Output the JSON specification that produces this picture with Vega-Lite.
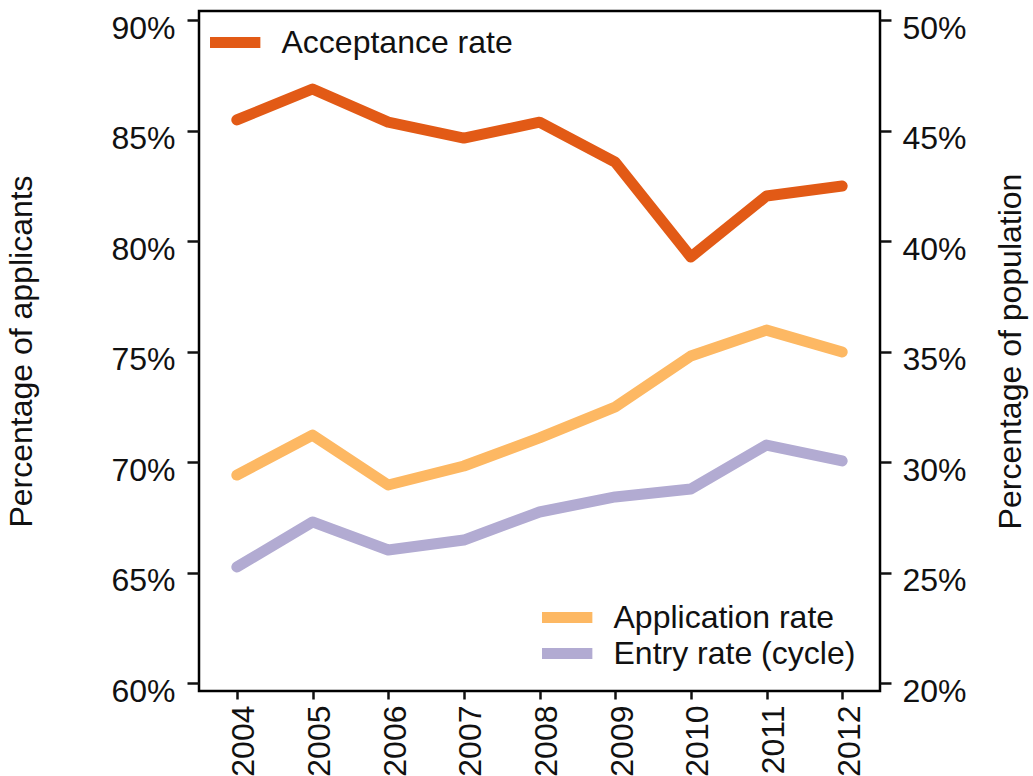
{
  "$schema": "https://vega.github.io/schema/vega-lite/v6.json",
  "width": 681,
  "height": 680,
  "autosize": {"type": "none"},
  "padding": {"left": 199, "top": 11, "right": 153, "bottom": 85},
  "background": "white",
  "datasets": {
    "applicants": [
      {"year": 2004, "series": "Acceptance rate", "value": 85.48},
      {"year": 2005, "series": "Acceptance rate", "value": 86.88},
      {"year": 2006, "series": "Acceptance rate", "value": 85.38},
      {"year": 2007, "series": "Acceptance rate", "value": 84.66},
      {"year": 2008, "series": "Acceptance rate", "value": 85.38},
      {"year": 2009, "series": "Acceptance rate", "value": 83.57},
      {"year": 2010, "series": "Acceptance rate", "value": 79.28},
      {"year": 2011, "series": "Acceptance rate", "value": 82.04},
      {"year": 2012, "series": "Acceptance rate", "value": 82.49}
    ],
    "population": [
      {"year": 2004, "series": "Application rate", "value": 29.41},
      {"year": 2005, "series": "Application rate", "value": 31.22},
      {"year": 2006, "series": "Application rate", "value": 28.96},
      {"year": 2007, "series": "Application rate", "value": 29.82},
      {"year": 2008, "series": "Application rate", "value": 31.09},
      {"year": 2009, "series": "Application rate", "value": 32.49},
      {"year": 2010, "series": "Application rate", "value": 34.80},
      {"year": 2011, "series": "Application rate", "value": 35.97},
      {"year": 2012, "series": "Application rate", "value": 34.98},
      {"year": 2004, "series": "Entry rate (cycle)", "value": 25.25},
      {"year": 2005, "series": "Entry rate (cycle)", "value": 27.29},
      {"year": 2006, "series": "Entry rate (cycle)", "value": 26.02},
      {"year": 2007, "series": "Entry rate (cycle)", "value": 26.47},
      {"year": 2008, "series": "Entry rate (cycle)", "value": 27.74},
      {"year": 2009, "series": "Entry rate (cycle)", "value": 28.42},
      {"year": 2010, "series": "Entry rate (cycle)", "value": 28.78},
      {"year": 2011, "series": "Entry rate (cycle)", "value": 30.77},
      {"year": 2012, "series": "Entry rate (cycle)", "value": 30.05}
    ]
  },
  "encoding": {
    "x": {
      "field": "year",
      "type": "quantitative",
      "scale": {"domain": [2003.5, 2012.5], "nice": false, "zero": false},
      "axis": {
        "title": null,
        "values": [2004, 2005, 2006, 2007, 2008, 2009, 2010, 2011, 2012],
        "format": "d",
        "labelAngle": -90,
        "tickSize": 8,
        "labelPadding": 6,
        "labelOffset": 7
      }
    }
  },
  "layer": [
    {
      "data": {"name": "applicants"},
      "mark": {"type": "line", "strokeWidth": 11, "strokeCap": "round", "strokeJoin": "round"},
      "encoding": {
        "y": {
          "field": "value",
          "type": "quantitative",
          "scale": {"domain": [59.64, 90.41], "nice": false, "zero": false},
          "axis": {
            "orient": "left",
            "title": "Percentage of applicants",
            "values": [60, 65, 70, 75, 80, 85, 90],
            "labelExpr": "datum.value + '%'",
            "tickSize": 12,
            "labelPadding": 12,
            "labelOffset": 8,
            "titleX": -178,
            "titleY": 340,
            "titleAngle": -90,
            "titleAlign": "center",
            "titleBaseline": "middle"
          }
        },
        "color": {
          "field": "series",
          "type": "nominal",
          "scale": {"domain": ["Acceptance rate"], "range": ["#e25a16"]},
          "legend": {
            "orient": "none",
            "legendX": 11,
            "legendY": 13.75,
            "title": null
          }
        }
      }
    },
    {
      "data": {"name": "population"},
      "mark": {"type": "line", "strokeWidth": 11, "strokeCap": "round", "strokeJoin": "round"},
      "encoding": {
        "y": {
          "field": "value",
          "type": "quantitative",
          "scale": {"domain": [19.64, 50.41], "nice": false, "zero": false},
          "axis": {
            "orient": "right",
            "title": "Percentage of population",
            "values": [20, 25, 30, 35, 40, 45, 50],
            "labelExpr": "datum.value + '%'",
            "tickSize": 11,
            "labelPadding": 11,
            "labelOffset": 8,
            "titleX": 130,
            "titleY": 340,
            "titleAngle": -90,
            "titleAlign": "center",
            "titleBaseline": "middle"
          }
        },
        "color": {
          "field": "series",
          "type": "nominal",
          "scale": {"domain": ["Application rate", "Entry rate (cycle)"], "range": ["#fdb863", "#b2abd2"]},
          "legend": {
            "orient": "none",
            "legendX": 343,
            "legendY": 588.75,
            "title": null
          }
        }
      }
    }
  ],
  "resolve": {"scale": {"y": "independent", "color": "independent"}, "axis": {"y": "independent"}, "legend": {"color": "independent"}},
  "config": {
    "font": "Liberation Sans",
    "view": {"stroke": "black", "strokeWidth": 2.5},
    "axis": {
      "labelFontSize": 32,
      "titleFontSize": 32,
      "titleFontWeight": "normal",
      "labelColor": "#111111",
      "titleColor": "#111111",
      "labelFont": "Liberation Sans",
      "titleFont": "Liberation Sans",
      "tickColor": "#111111",
      "tickWidth": 2.5,
      "domain": false,
      "grid": false
    },
    "legend": {
      "symbolType": "M-1.5,0H2.5",
      "symbolStrokeWidth": 11,
      "symbolSize": 650,
      "labelFontSize": 32,
      "labelFont": "Liberation Sans",
      "labelColor": "#111111",
      "labelOffset": 34.5,
      "padding": 0,
      "rowPadding": 0,
      "clipHeight": 35.5,
      "labelLimit": 500
    }
  }
}
